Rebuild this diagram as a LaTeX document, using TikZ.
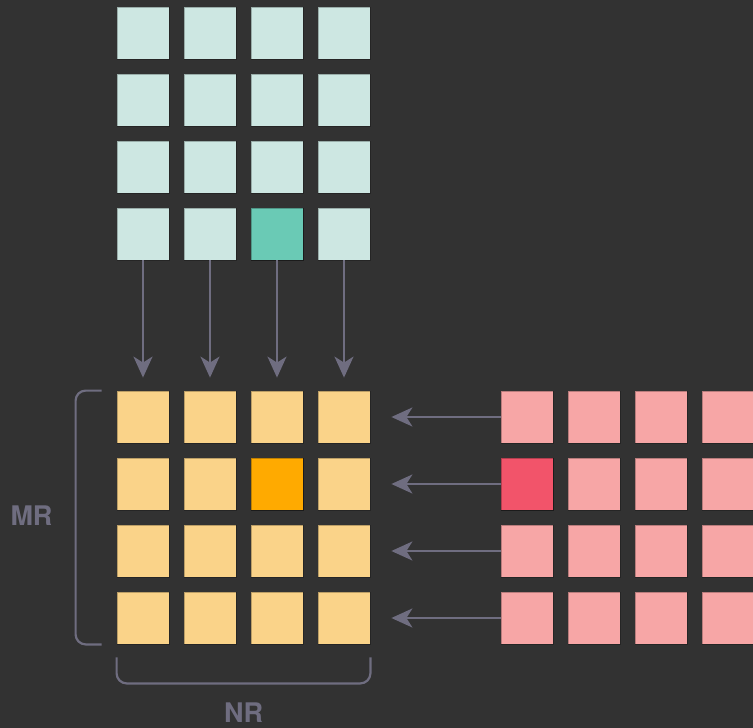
\documentclass[tikz,border=0pt]{standalone}
\usepackage{fontspec}
\setmainfont{TeX Gyre Heros}
\usetikzlibrary{arrows.meta}
\definecolor{bg}{HTML}{323232}
\definecolor{ink}{HTML}{6F6D80}
\definecolor{teallight}{HTML}{CDE7E2}
\definecolor{tealhi}{HTML}{6ACAB5}
\definecolor{yel}{HTML}{FAD389}
\definecolor{orng}{HTML}{FFAA00}
\definecolor{pnk}{HTML}{F7A6A6}
\definecolor{redhi}{HTML}{F2546A}
\tikzset{
  cell/.style={rectangle, minimum size=52pt, inner sep=0pt, draw=black, draw opacity=0.25, line width=0.8pt},
  arr/.style={draw=ink, line width=2.2pt, -{Stealth[length=21pt, width=19pt, inset=6pt]}},
  brace/.style={draw=ink, line width=2.2pt, rounded corners=10pt},
  lab/.style={text=ink, font=\fontsize{27}{32}\selectfont\bfseries, inner sep=0pt}
}
\begin{document}
\begin{tikzpicture}[x=1pt,y=-1pt]
\fill[bg] (0,0) rectangle (753,728);
\useasboundingbox (0,0) rectangle (753,728);
% grids
\foreach \r in {1,...,4}{
  \foreach \c in {1,...,4}{
    \node[cell, fill=teallight] (t-\r-\c) at ({143+67*(\c-1)},{33+67*(\r-1)}) {};
    \node[cell, fill=yel] (b-\r-\c) at ({143+67*(\c-1)},{417+67*(\r-1)}) {};
    \node[cell, fill=pnk] (p-\r-\c) at ({527+67*(\c-1)},{417+67*(\r-1)}) {};
  }
}
\node[cell, fill=tealhi] (thi) at (t-4-3) {};
\node[cell, fill=orng] (bhi) at (b-2-3) {};
\node[cell, fill=redhi] (phi) at (p-2-1) {};
% vertical arrows
\foreach \c in {1,...,4}{
  \draw[arr] (t-4-\c.south) -- ([yshift=13pt]b-1-\c.north);
}
% horizontal arrows
\foreach \r in {1,...,4}{
  \draw[arr] (p-\r-1.west) -- ([xshift=21pt]b-\r-4.east);
}
% braces
\coordinate (lb1) at ([xshift=-15pt]b-1-1.north west);
\coordinate (lb2) at ([xshift=-41pt]b-1-1.north west);
\coordinate (lb3) at ([xshift=-41pt]b-4-1.south west);
\coordinate (lb4) at ([xshift=-15pt]b-4-1.south west);
\draw[brace] (lb1) -- (lb2) -- (lb3) -- (lb4);
\coordinate (bb1) at ([yshift=-13pt]b-4-1.south west);
\coordinate (bb2) at ([yshift=-39pt]b-4-1.south west);
\coordinate (bb3) at ([yshift=-39pt]b-4-4.south east);
\coordinate (bb4) at ([yshift=-13pt]b-4-4.south east);
\draw[brace] (bb1) -- (bb2) -- (bb3) -- (bb4);
\node[lab] (mr) at (31.5,516) {MR};
\node[lab] (nr) at (243.5,713) {NR};
\end{tikzpicture}
\end{document}
